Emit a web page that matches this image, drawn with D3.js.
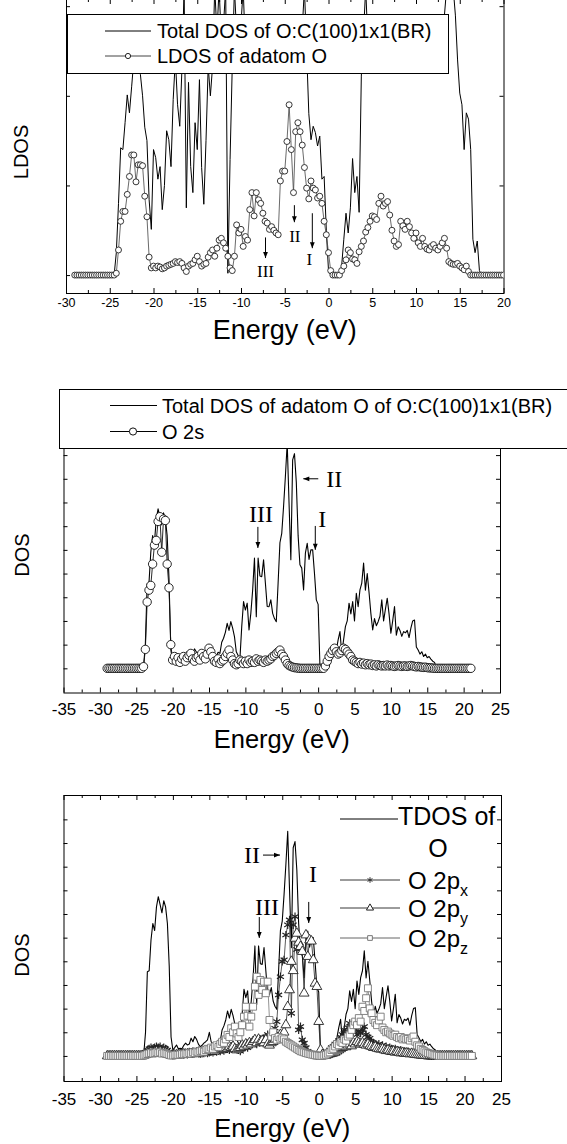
<!DOCTYPE html>
<html>
<head>
<meta charset="utf-8">
<script src="https://cdn.jsdelivr.net/npm/d3@7"></script>
<style>
  html, body { margin: 0; padding: 0; background: #fff; }
  svg { display: block; }
  text { font-family: "Liberation Sans", Arial, sans-serif; fill: #000; }
  .roman { font-family: "Liberation Serif", "Times New Roman", serif; }
</style>
</head>
<body>
<svg id="chart" width="567" height="1144"></svg>
<script>
/////////////////////////////////////////////////////
///////////////////// the data //////////////////////
/////////////////////////////////////////////////////

// top panel: energies (eV) on a 0.25 eV grid, -29 .. 20
const energyTop = d3.range(-29, 20.001, 0.25);

// total DOS of O:C(100)1x1(BR) (spikes > 3 run off the top)
const totalDosSurface = [
  0,0,0,0, 0,0,0,0, 0,0,0,0, 0,0,0,0, 0,0,0,0.25,
  0.8,1.42,1.4,1.7, 2.01,1.81,2.1,2.4, 2.65,2.44,2.24,2.0, 1.65,1.5,0.84,0.51, 1.4,1.31,1.07,1.21,
  0.73,1.0,1.61,1.51, 1.21,1.96,2.41,1.9, 1.66,2.3,3.2,0.75, 2.15,1.21,0.92,1.7, 1.4,2.18,1.2,0.79,
  1.5,2.33,2.0,2.33, 3.2,2.7,3.2,2.63, 2.8,3.2,0.02,1.29, 2.33,3.2,2.7,2.52, 2.8,3.2,2.52,2.7,
  2.5,2.85,2.6,2.8, 2.7,2.5,2.85,2.6, 2.75,2.5,2.8,2.85, 2.6,2.5,2.8,2.9, 2.85,2.9,2.8,2.9,
  2.85,2.9,2.7,2.6, 2.75,3.2,2.5,1.8, 1.51,1.66,1.59,1.44, 1.55,1.07,1.1,0.5, 0.05,0,0,0,
  0,0,0.1,0.4, 0.69,0.47,0.75,1.3, 0.92,1.1,0.7,2.22, 2.7,3.2,2.6,2.5, 2.8,2.6,2.9,2.7,
  2.5,2.8,2.9,2.6, 2.7,2.5,2.8,2.9, 2.6,2.7,2.5,2.8, 2.9,2.6,2.7,2.5, 2.8,2.6,2.9,2.7,
  2.5,2.8,2.6,2.9, 2.7,2.6,2.8,2.9, 2.7,2.9,3.2,3.2, 3.2,3.2,2.9,2.4, 2.03,1.9,1.4,1.81,
  1.74,1.4,0.4,0.25, 0.38,0.05,0,0, 0,0,0,0, 0,0,0,0,
  0
];

// LDOS of adatom O
const ldosAdatomO = [
  0,0,0,0, 0,0,0,0, 0,0,0,0, 0,0,0,0, 0,0,0,0.02,
  0.28,0.6,0.71,0.71, 0.9,1.1,1.34,1.34, 1.04,1.23,1.23,1.22, 0.88,0.65,0.2,0.08, 0.1,0.08,0.1,0.09,
  0.07,0.08,0.1,0.11, 0.12,0.13,0.15,0.14, 0.15,0.13,0.08,0.04, 0.1,0.12,0.13,0.17, 0.21,0.15,0.1,0.12,
  0.13,0.2,0.25,0.28, 0.21,0.3,0.39,0.41, 0.36,0.3,0.21,0.08, 0.05,0.21,0.56,0.47, 0.51,0.32,0.43,0.39,
  0.73,0.92,0.66,0.92, 0.84,0.8,0.69,0.6, 0.58,0.51,0.54,0.5, 0.47,0.45,1.05,1.16, 1.16,1.49,1.9,1.4,
  0.92,1.6,1.7,1.6, 1.45,1.2,0.97,0.85, 1.05,0.97,0.95,0.86, 0.88,0.8,0.6,0.45, 0.25,0.05,0,0,
  0,0,0.05,0.1, 0.17,0.28,0.25,0.18, 0.17,0.13,0.26,0.32, 0.38,0.48,0.53,0.6, 0.66,0.65,0.62,0.8,
  0.88,0.77,0.8,0.82, 0.67,0.5,0.38,0.32, 0.34,0.6,0.55,0.51, 0.6,0.54,0.47,0.41, 0.47,0.36,0.32,0.41,
  0.32,0.29,0.28,0.32, 0.34,0.3,0.28,0.32, 0.36,0.41,0.3,0.15, 0.13,0.12,0.12,0.13, 0.1,0.08,0.06,0.1,
  0.04,0,0,0, 0,0,0,0, 0,0,0,0, 0,0,0,0,
  0
];

// middle + bottom panels: energies (eV) on a 0.25 eV grid, -29 .. 21
const energyO = d3.range(-29, 21.001, 0.25);

// total DOS of adatom O (same curve in both lower panels)
const tdosAdatomO = [
  0,0,0,0, 0,0,0,0, 0,0,0,0, 0,0,0,0, 0,0,0,0,
  0.05,1.0,3.56,3.6, 4.9,5.6,5.3,6.3, 6.73,6.4,6.05,6.56, 6.3,5.6,3.8,0.8, 0.25,0.35,0.46,0.3,
  0.32,0.3,0.45,0.54, 0.46,0.5,0.75,0.6, 0.82,0.7,0.5,0.39, 0.45,0.54,0.6,0.68, 1.0,0.6,0.5,0.39,
  0.5,0.68,0.63,1.1, 1.27,1.52,1.9,1.6, 1.97,1.7,1.34,0.7, 0.54,0.4,1.76,2.82, 2.46,2.75,1.62,2.32,
  3.3,4.65,2.18,4.65, 3.9,3.87,4.58,3.6, 2.61,2.6,2.89,2.32, 2.1,1.97,3.6,5.3, 5.7,6.83,8.1,9.5,
  7.0,4.58,8.8,9.06, 7.86,5.6,4.37,4.23, 3.31,4.86,5.28,4.6, 5.0,5.0,4.0,2.89, 2.7,0.1,0,0,
  0,0,0.1,0.3, 0.5,0.6,0.77,1.2, 1.55,0.63,1.2,1.76, 2.0,2.75,2.3,2.82, 2.0,3.17,2.6,3.31,
  3.6,4.44,3.3,4.0, 3.2,2.32,1.62,2.1, 1.8,1.97,2.2,2.89, 2.0,2.5,2.96,2.3, 1.48,2.0,2.61,1.4,
  1.75,1.6,1.35,1.55, 1.5,1.6,1.3,1.7, 2.0,2.04,0.9,0.77, 0.6,0.7,0.5,0.6, 0.45,0.5,0.39,0.3,
  0.25,0.05,0,0, 0,0,0,0, 0,0,0,0, 0,0,0,0, 0,0,0,0,
  0
];

// O 2s
const o2s = [
  0,0,0,0, 0,0,0,0, 0,0,0,0, 0,0,0,0, 0,0,0,0,
  0.07,0.8,2.8,3.3, 3.5,4.4,5.2,5.4, 6.2,6.4,4.9,6.3, 6.24,4.4,3.4,1.0, 0.35,0.5,0.3,0.45,
  0.25,0.4,0.5,0.3, 0.45,0.55,0.63,0.4, 0.3,0.45,0.5,0.35, 0.63,0.5,0.4,0.6, 0.85,0.7,0.5,0.3,
  0.25,0.4,0.2,0.3, 0.35,0.5,0.63,0.77, 0.5,0.35,0.2,0.15, 0.2,0.35,0.3,0.2, 0.3,0.2,0.35,0.25,
  0.3,0.25,0.4,0.3, 0.35,0.3,0.25,0.35, 0.3,0.35,0.4,0.5, 0.55,0.63,0.7,0.77, 0.6,0.5,0.35,0.2,
  0.12,0.08,0.05,0.03, 0.02,0.01,0,0, 0,0,0,0, 0,0,0,0, 0,0,0,0,
  0.1,0.3,0.5,0.63, 0.75,0.85,0.7,0.6, 0.65,0.75,0.85,0.8, 0.7,0.6,0.5,0.35, 0.3,0.25,0.2,0.25,
  0.18,0.22,0.15,0.2, 0.15,0.18,0.12,0.15, 0.1,0.15,0.12,0.1, 0.12,0.1,0.14,0.1, 0.12,0.1,0.08,0.1,
  0.12,0.1,0.08,0.1, 0.1,0.08,0.1,0.12, 0.1,0.08,0.06,0.08, 0.06,0.05,0.04,0.05, 0.03,0.02,0.02,0.01,
  0,0,0,0, 0,0,0,0, 0,0,0,0, 0,0,0,0, 0,0,0,0,
  0
];

// O 2px
const o2px = [
  0,0,0,0, 0,0,0,0, 0,0,0,0, 0,0,0,0, 0,0,0,0,
  0.05,0.15,0.25,0.3, 0.35,0.3,0.35,0.4, 0.35,0.4,0.3,0.35, 0.3,0.25,0.15,0.05, 0.02,0.03,0.05,0.04,
  0.05,0.06,0.05,0.08, 0.06,0.08,0.1,0.08, 0.1,0.12,0.1,0.08, 0.1,0.12,0.15,0.12, 0.15,0.18,0.15,0.2,
  0.18,0.22,0.2,0.25, 0.22,0.28,0.3,0.25, 0.3,0.35,0.3,0.28, 0.25,0.2,0.3,0.35, 0.4,0.35,0.45,0.5,
  0.55,0.6,0.5,0.65, 0.7,0.6,0.75,0.8, 0.9,0.75,0.85,0.82, 1.17,1.45,2.58,3.35, 3.99,4.06,5.11,5.54,
  5.75,1.8,5.54,5.89, 4.5,1.1,1.24,0.68, 0.54,0.35,0.2,0.1, 0.05,0.03,0.02,0, 0,0,0.02,0.05,
  0.1,0.15,0.25,0.35, 0.4,0.5,0.55,0.65, 0.8,0.9,1.1,0.95, 1.2,1.38,1.1,1.0, 1.15,0.9,1.05,0.96,
  1.1,1.24,0.9,0.8, 0.75,0.6,0.55,0.5, 0.45,0.5,0.4,0.45, 0.35,0.4,0.3,0.35, 0.3,0.25,0.3,0.22,
  0.2,0.25,0.18,0.2, 0.15,0.18,0.12,0.15, 0.1,0.12,0.08,0.06, 0.05,0.04,0.03,0.02, 0,0,0,0,
  0,0,0,0, 0,0,0,0, 0,0,0,0, 0,0,0,0, 0,0,0,0,
  0
];

// O 2py
const o2py = [
  0,0,0,0, 0,0,0,0, 0,0,0,0, 0,0,0,0, 0,0,0,0,
  0.02,0.05,0.1,0.12, 0.15,0.12,0.15,0.18, 0.15,0.18,0.12,0.15, 0.12,0.08,0.05,0.02, 0.02,0.03,0.04,0.05,
  0.05,0.06,0.08,0.07, 0.08,0.1,0.09,0.12, 0.1,0.12,0.15,0.13, 0.15,0.18,0.15,0.2, 0.22,0.18,0.25,0.2,
  0.25,0.3,0.28,0.32, 0.3,0.35,0.32,0.38, 0.35,0.4,0.3,0.25, 0.3,0.35,0.45,0.4, 0.5,0.45,0.55,0.5,
  0.6,0.68,0.55,0.7, 0.6,0.65,0.55,0.68, 0.5,0.45,0.55,0.6, 0.7,0.8,0.75,0.9, 0.85,1.0,1.31,2.08,
  2.79,3.99,3.6,4.97, 5.18,4.8,4.62,4.41, 2.65,5.11,4.2,4.9, 4.85,4.06,3.07,2.93, 1.45,0.25,0.05,0.02,
  0.02,0.05,0.08,0.1, 0.12,0.15,0.2,0.25, 0.3,0.35,0.4,0.38, 0.45,0.5,0.42,0.55, 0.5,0.6,0.55,0.5,
  0.55,0.48,0.45,0.5, 0.42,0.4,0.35,0.38, 0.32,0.3,0.28,0.3, 0.25,0.22,0.25,0.2, 0.18,0.2,0.15,0.18,
  0.15,0.12,0.14,0.1, 0.12,0.1,0.08,0.1, 0.08,0.06,0.05,0.04, 0.03,0.02,0.02,0.01, 0,0,0,0,
  0,0,0,0, 0,0,0,0, 0,0,0,0, 0,0,0,0, 0,0,0,0,
  0
];

// O 2pz
const o2pz = [
  0,0,0,0, 0,0,0,0, 0,0,0,0, 0,0,0,0, 0,0,0,0,
  0.02,0.05,0.08,0.1, 0.12,0.1,0.12,0.15, 0.12,0.15,0.1,0.12, 0.1,0.08,0.05,0.02, 0.02,0.04,0.05,0.04,
  0.06,0.08,0.07,0.1, 0.08,0.12,0.1,0.15, 0.12,0.18,0.15,0.2, 0.22,0.18,0.25,0.3, 0.28,0.35,0.3,0.4,
  0.45,0.38,0.5,0.6, 0.55,0.7,0.89,0.8, 1.17,1.0,1.24,0.95, 0.8,1.0,1.3,1.66, 2.08,1.7,1.24,1.66,
  2.08,2.93,3.35,2.58, 3.21,2.79,3.14,2.65, 3.14,1.52,0.82,1.0, 0.75,0.68,0.8,0.7, 0.75,0.7,0.6,0.55,
  0.5,0.45,0.4,0.35, 0.3,0.25,0.2,0.18, 0.15,0.12,0.1,0.08, 0.06,0.05,0.03,0.02, 0.01,0,0,0.02,
  0.05,0.1,0.15,0.25, 0.3,0.4,0.5,0.45, 0.6,0.55,0.7,0.65, 0.82,0.9,1.1,1.3, 1.45,1.3,1.6,1.45,
  2.08,1.9,2.44,2.86, 2.01,1.8,1.52,1.4, 1.3,1.5,1.66,1.2, 1.1,1.0,1.03,0.95, 0.9,0.85,0.9,0.8,
  0.75,0.8,0.7,0.75, 0.7,0.72,0.65,0.75, 0.82,0.6,0.45,0.4, 0.3,0.25,0.2,0.15, 0.12,0.1,0.08,0.05,
  0.03,0.02,0,0, 0,0,0,0, 0,0,0,0, 0,0,0,0, 0,0,0,0,
  0
];

// tick values
const xTicksTop = [-30, -25, -20, -15, -10, -5, 0, 5, 10, 15, 20];
const xMinorTop = [-27.5, -22.5, -17.5, -12.5, -7.5, -2.5, 2.5, 7.5, 12.5, 17.5];
const yTicksTop = [0, 1, 2, 3];
const xTicksO = [-35, -30, -25, -20, -15, -10, -5, 0, 5, 10, 15, 20, 25];
const xMinorO = [-32.5, -27.5, -22.5, -17.5, -12.5, -7.5, -2.5, 2.5, 7.5, 12.5, 17.5, 22.5];
const yTicksO = [0, 1, 2, 3, 4, 5, 6, 7, 8, 9, 10];

// peak labels (energy, DOS) : text spot + arrow from -> tip
const peaksTop = [
  { label: 'III', tx: -7.2, ty: -0.02, x1: -7.2, y1: 0.42, x2: -7.2, y2: 0.19 },
  { label: 'II',  tx: -3.85, ty: 0.37, x1: -3.9, y1: 0.78, x2: -3.9, y2: 0.59 },
  { label: 'I',   tx: -2.2, ty: 0.11, x1: -1.85, y1: 0.69, x2: -1.85, y2: 0.3 }
];
const peaksMid = [
  { label: 'III', tx: -7.86, ty: 6.18, x1: -8.28, y1: 5.97, x2: -8.28, y2: 5.08 },
  { label: 'II',  tx: 2.22, ty: 7.66, x1: 0.02, y1: 8.0, x2: -2.04, y2: 8.0 },
  { label: 'I',   tx: 0.57, ty: 5.97, x1: -0.39, y1: 6.01, x2: -0.39, y2: 5.0 }
];
const peaksBot = [
  { label: 'II',  tx: -9.15, ty: 8.15, x1: -7.64, y1: 8.49, x2: -5.31, y2: 8.49 },
  { label: 'III', tx: -7.09, ty: 5.96, x1: -8.15, y1: 5.87, x2: -8.15, y2: 4.99 },
  { label: 'I',   tx: -0.78, ty: 7.35, x1: -1.37, y1: 6.51, x2: -1.37, y2: 5.62 }
];

/////////////////////////////////////////////////////
//////////////////// the drawing ////////////////////
/////////////////////////////////////////////////////

const svg = d3.select('#chart');
const defs = svg.append('defs');

const zip = (energy, values) => energy.map((e, i) => ({ e, v: values[i] }));

// a framed panel with its scales, axes and clip area
function makePanel(cfg) {
  const x = d3.scaleLinear().domain(cfg.xDomain).range([cfg.left, cfg.right]);
  const y = d3.scaleLinear().domain(cfg.yDomain).range([cfg.bottom, cfg.top]);

  defs.append('clipPath').attr('id', cfg.id)
    .append('rect')
    .attr('x', cfg.left).attr('y', cfg.top)
    .attr('width', cfg.right - cfg.left).attr('height', cfg.bottom - cfg.top);

  const g = svg.append('g');
  const noDomain = a => a.select('.domain').remove();

  // bottom axis: labelled majors + short minors, ticks pointing in
  g.append('g').attr('transform', `translate(0,${cfg.bottom})`)
    .call(d3.axisBottom(x).tickValues(cfg.xTicks).tickFormat(d => String(d))
      .tickSizeInner(-5).tickSizeOuter(0).tickPadding(cfg.tickPad))
    .attr('font-size', cfg.tickFont).attr('font-family', null)
    .call(noDomain);
  g.append('g').attr('transform', `translate(0,${cfg.bottom})`)
    .call(d3.axisBottom(x).tickValues(cfg.xMinor).tickFormat('').tickSizeInner(-3).tickSizeOuter(0))
    .call(noDomain);

  // top axis, unlabelled
  g.append('g').attr('transform', `translate(0,${cfg.top})`)
    .call(d3.axisTop(x).tickValues(cfg.xTicks).tickFormat('').tickSizeInner(-5).tickSizeOuter(0))
    .call(noDomain);
  g.append('g').attr('transform', `translate(0,${cfg.top})`)
    .call(d3.axisTop(x).tickValues(cfg.xMinor).tickFormat('').tickSizeInner(-3).tickSizeOuter(0))
    .call(noDomain);

  // left / right axes, no labels
  g.append('g').attr('transform', `translate(${cfg.left},0)`)
    .call(d3.axisLeft(y).tickValues(cfg.yTicks).tickFormat('').tickSizeInner(-4).tickSizeOuter(0))
    .call(noDomain);
  g.append('g').attr('transform', `translate(${cfg.right},0)`)
    .call(d3.axisRight(y).tickValues(cfg.yTicks).tickFormat('').tickSizeInner(-4).tickSizeOuter(0))
    .call(noDomain);

  g.append('rect')
    .attr('x', cfg.left + 0.5).attr('y', cfg.top + 0.5)
    .attr('width', cfg.right - cfg.left).attr('height', cfg.bottom - cfg.top)
    .attr('fill', 'none').attr('stroke', '#000').attr('stroke-width', 1);

  // axis titles
  g.append('text')
    .attr('x', (cfg.left + cfg.right) / 2).attr('y', cfg.titleY)
    .attr('text-anchor', 'middle').attr('font-size', cfg.titleFont)
    .text('Energy (eV)');
  g.append('text')
    .attr('transform', `translate(${cfg.yTitleX},${cfg.yTitleY}) rotate(-90)`)
    .attr('text-anchor', 'middle').attr('dy', '0.35em').attr('font-size', 20)
    .text(cfg.yTitle);

  const plot = svg.append('g').attr('clip-path', `url(#${cfg.id})`);
  return { x, y, g, plot };
}

function drawLine(p, data, color, width) {
  p.plot.append('path').datum(data)
    .attr('fill', 'none').attr('stroke', color).attr('stroke-width', width)
    .attr('stroke-linejoin', 'round')
    .attr('d', d3.line().x(d => p.x(d.e)).y(d => p.y(d.v)));
}

function drawSymbols(p, data, symbol, size, fill, stroke, sw) {
  p.plot.append('g').selectAll('path').data(data).join('path')
    .attr('transform', d => `translate(${p.x(d.e)},${p.y(d.v)})`)
    .attr('d', d3.symbol(symbol, size))
    .attr('fill', fill).attr('stroke', stroke).attr('stroke-width', sw || 0.9);
}

function arrowHead(g, x1, y1, x2, y2) {
  const a = Math.atan2(y2 - y1, x2 - x1), L = 6, W = 2.4;
  const bx = x2 - L * Math.cos(a), by = y2 - L * Math.sin(a);
  g.append('path')
    .attr('d', `M${x2},${y2}L${bx - W * Math.sin(a)},${by + W * Math.cos(a)}L${bx + W * Math.sin(a)},${by - W * Math.cos(a)}Z`)
    .attr('fill', '#000');
}

function drawPeaks(p, peaks, fontSize) {
  peaks.forEach(k => {
    p.g.append('text').attr('class', 'roman')
      .attr('x', p.x(k.tx)).attr('y', p.y(k.ty))
      .attr('text-anchor', 'middle').attr('font-size', fontSize)
      .text(k.label);
    const x1 = p.x(k.x1), y1 = p.y(k.y1), x2 = p.x(k.x2), y2 = p.y(k.y2);
    p.g.append('line').attr('x1', x1).attr('y1', y1).attr('x2', x2).attr('y2', y2)
      .attr('stroke', '#000').attr('stroke-width', 1);
    arrowHead(p.g, x1, y1, x2, y2);
  });
}

//////////////////// top panel ////////////////////
const p1 = makePanel({
  id: 'clipTop', left: 66, right: 503.5, top: -1, bottom: 293,
  xDomain: [-30, 20], yDomain: [-0.2, 3.08],
  xTicks: xTicksTop, xMinor: xMinorTop, yTicks: yTicksTop,
  tickFont: 12.5, tickPad: 5, titleY: 339, titleFont: 27,
  yTitle: 'LDOS', yTitleX: 21, yTitleY: 152
});
drawLine(p1, zip(energyTop, totalDosSurface), '#000', 1);
drawLine(p1, zip(energyTop, ldosAdatomO), '#444', 0.8);
drawSymbols(p1, zip(energyTop, ldosAdatomO), d3.symbolCircle, 28, '#fff', '#222');
drawPeaks(p1, peaksTop, 17);

// legend (boxed)
const lg1 = svg.append('g');
lg1.append('rect').attr('x', 67.5).attr('y', 14.5).attr('width', 381).attr('height', 59)
  .attr('fill', '#fff').attr('stroke', '#000');
lg1.append('line').attr('x1', 105).attr('x2', 151).attr('y1', 31).attr('y2', 31).attr('stroke', '#000');
lg1.append('text').attr('x', 157).attr('y', 31).attr('dy', '0.35em').attr('font-size', 20)
  .text('Total DOS of O:C(100)1x1(BR)');
lg1.append('line').attr('x1', 105).attr('x2', 151).attr('y1', 56).attr('y2', 56).attr('stroke', '#444');
lg1.append('circle').attr('cx', 128).attr('cy', 56).attr('r', 2.6).attr('fill', '#fff').attr('stroke', '#222');
lg1.append('text').attr('x', 157).attr('y', 56).attr('dy', '0.35em').attr('font-size', 20)
  .text('LDOS of adatom O');

//////////////////// middle panel ////////////////////
const p2 = makePanel({
  id: 'clipMid', left: 63.5, right: 500, top: 407, bottom: 692.5,
  xDomain: [-35, 25], yDomain: [-1.02, 11.03],
  xTicks: xTicksO, xMinor: xMinorO, yTicks: yTicksO,
  tickFont: 17, tickPad: 10, titleY: 748, titleFont: 25.5,
  yTitle: 'DOS', yTitleX: 22, yTitleY: 555
});
drawLine(p2, zip(energyO, tdosAdatomO), '#000', 1.1);
drawLine(p2, zip(energyO, o2s), '#111', 0.9);
drawSymbols(p2, zip(energyO, o2s), d3.symbolCircle, 55, '#fff', '#111');
drawPeaks(p2, peaksMid, 24);

const lg2 = svg.append('g');
lg2.append('rect').attr('x', 59.5).attr('y', 389.5).attr('width', 520).attr('height', 59)
  .attr('fill', '#fff').attr('stroke', '#000');
lg2.append('line').attr('x1', 110).attr('x2', 157).attr('y1', 405.5).attr('y2', 405.5).attr('stroke', '#000');
lg2.append('text').attr('x', 162).attr('y', 405.5).attr('dy', '0.35em').attr('font-size', 20)
  .text('Total DOS of adatom O of O:C(100)1x1(BR)');
lg2.append('line').attr('x1', 110).attr('x2', 157).attr('y1', 431.5).attr('y2', 431.5).attr('stroke', '#000');
lg2.append('circle').attr('cx', 133).attr('cy', 431.5).attr('r', 3.6).attr('fill', '#fff').attr('stroke', '#111');
lg2.append('text').attr('x', 162).attr('y', 431.5).attr('dy', '0.35em').attr('font-size', 20)
  .text('O 2s');

//////////////////// bottom panel ////////////////////
const p3 = makePanel({
  id: 'clipBot', left: 63.5, right: 501, top: 795, bottom: 1081,
  xDomain: [-35, 25], yDomain: [-1.06, 11.03],
  xTicks: xTicksO, xMinor: xMinorO, yTicks: yTicksO,
  tickFont: 17, tickPad: 12, titleY: 1137, titleFont: 25.5,
  yTitle: 'DOS', yTitleX: 22, yTitleY: 955
});
drawLine(p3, zip(energyO, tdosAdatomO), '#000', 1.1);
drawLine(p3, zip(energyO, o2px), '#333', 0.8);
drawSymbols(p3, zip(energyO, o2px), d3.symbolAsterisk, 46, 'none', '#222', 1.2);
drawLine(p3, zip(energyO, o2py), '#222', 0.8);
drawSymbols(p3, zip(energyO, o2py), d3.symbolTriangle, 42, '#fff', '#222');
drawLine(p3, zip(energyO, o2pz), '#777', 0.8);
drawSymbols(p3, zip(energyO, o2pz), d3.symbolSquare, 48, '#fff', '#777');
drawPeaks(p3, peaksBot, 24);

// legend (no box)
const lg3 = svg.append('g');
lg3.append('line').attr('x1', 340).attr('x2', 398).attr('y1', 819).attr('y2', 819).attr('stroke', '#000');
lg3.append('text').attr('x', 398).attr('y', 825).attr('font-size', 25).text('TDOS of');
lg3.append('text').attr('x', 438).attr('y', 857).attr('text-anchor', 'middle').attr('font-size', 25).text('O');

const legRows = [
  { sub: 'x', y: 880, symbol: d3.symbolAsterisk, fill: 'none', stroke: '#333' },
  { sub: 'y', y: 908, symbol: d3.symbolTriangle, fill: '#fff', stroke: '#222' },
  { sub: 'z', y: 938, symbol: d3.symbolSquare, fill: '#fff', stroke: '#777' }
];
legRows.forEach(r => {
  lg3.append('line').attr('x1', 340).attr('x2', 400).attr('y1', r.y).attr('y2', r.y)
    .attr('stroke', r.stroke === '#777' ? '#555' : '#222').attr('stroke-width', 0.9);
  lg3.append('path').attr('transform', `translate(370,${r.y})`)
    .attr('d', d3.symbol(r.symbol, 22)).attr('fill', r.fill).attr('stroke', r.stroke);
  const t = lg3.append('text').attr('x', 408).attr('y', r.y + 8.5).attr('font-size', 24);
  t.append('tspan').text('O 2p');
  t.append('tspan').attr('font-size', 16).attr('dy', 7).text(r.sub);
});
</script>
</body>
</html>
